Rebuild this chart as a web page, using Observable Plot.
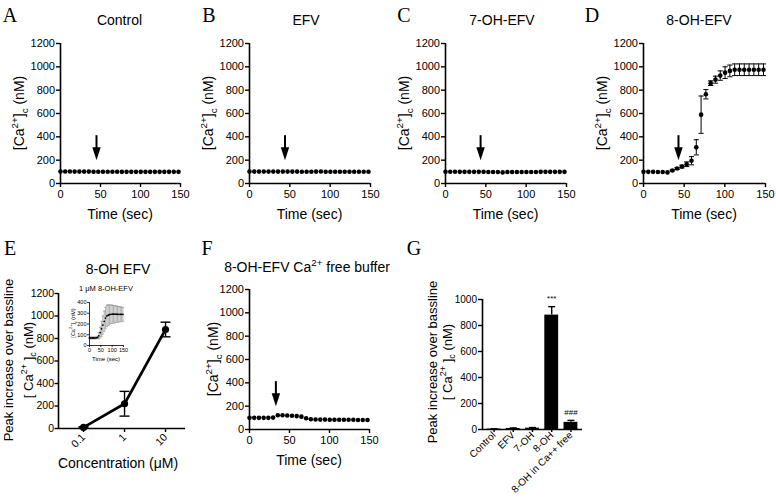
<!DOCTYPE html>
<html><head><meta charset="utf-8">
<script src="https://cdn.jsdelivr.net/npm/d3@7"></script>
<script src="https://cdn.jsdelivr.net/npm/@observablehq/plot@0.6"></script>
<style>
body{margin:0;background:#fff;}
#root{position:relative;width:776px;height:500px;overflow:hidden;font-family:"Liberation Sans",Arial,sans-serif;color:#000;background:#fff;}
.abs{position:absolute;white-space:nowrap;line-height:1;}
sup,sub{font-size:0.7em;line-height:0;}
</style></head><body><div id="root"></div>
<script>
// ---------- data ----------
const time = [0,5.9,11.8,17.7,23.6,29.5,35.4,41.3,47.2,53.1,59,64.9,70.8,76.7,82.6,88.5,94.4,100.3,106.2,112.1,118,123.9,129.8,135.7,141.6,147.5];
const controlCa = [103,103,103,102,102,102,102,101,101,101,101,101,101,100,100,100,100,100,100,100,100,100,100,100,100,100];
const efvCa     = [102,102,102,102,102,102,102,102,102,102,102,101,101,101,102,103,101,101,101,101,101,101,101,101,101,101];
const oh7Ca     = [101,101,101,100,100,100,100,100,100,99,99,98,95,98,98,98,99,99,99,99,100,100,100,100,100,100];
const oh8Ca     = [100,100,100,99,98,95,112,128,145,165,195,310,590,765,860,890,925,950,965,975,975,975,975,975,975,975];
const oh8Err    = [0,0,0,0,0,0,5,8,12,20,35,65,160,40,20,30,40,50,50,50,50,50,50,50,50,50];
const freeCa    = [100,100,100,100,100,102,122,122,120,118,115,110,96,88,86,85,85,84,84,84,83,83,83,82,82,82];
const insetCa   = [70,70,70,70,70,71,75,90,120,155,190,225,255,275,282,288,290,291,291,291,291,290,290,290,290,290];
const insetErr  = [8,8,8,8,8,8,10,30,50,70,85,95,100,100,95,90,85,85,80,80,75,75,70,70,65,65];
const addTime = {A:45, B:44, C:43.5, D:43, F:33};
const conc = [0.1, 1, 10];
const concPeak = [10, 220, 880];
const concErr = [6, 110, 65];
const groups = ["Control","EFV","7-OH","8-OH","8-OH in Ca++ free"];
const groupPeak = [3, 8, 10, 880, 55];
const groupErr = [2, 4, 5, 65, 15];
const groupSig = ["","","","***","###"];
const timeTicks = [0,50,100,150];
const caTicks = [0,200,400,600,800,1000,1200];
const peakTicks = [0,200,400,600,800,1000];
const insetTicksY = [0,100,200,300,400];

// ---------- helpers ----------
const root = document.getElementById("root");
const FONT = "Liberation Sans, Arial, sans-serif";
const plain = d => String(d);
function place(svg, left, top, tw=1.4){
  svg.style.position="absolute";svg.style.left=left+"px";svg.style.top=top+"px";
  svg.querySelectorAll('[aria-label$="tick"]').forEach(g=>g.setAttribute("stroke-width",tw));
  root.appendChild(svg);
}
function txt(html, x, y, {size=14, rot=false, family=FONT}={}){
  const d=document.createElement("div");d.className="abs";d.innerHTML=html;
  d.style.left=x+"px";d.style.top=y+"px";d.style.fontSize=size+"px";d.style.fontFamily=family;
  d.style.transform="translate(-50%,-50%)"+(rot?" rotate(-90deg)":"");
  root.appendChild(d);
}
const arrowHead = {draw(c){c.moveTo(0,0);c.lineTo(-4.2,-13);c.lineTo(4.2,-13);c.closePath();}};
const cap = w => ({draw(c){c.moveTo(-w,0);c.lineTo(w,0);}});
const caLabel = "[Ca<sup>2+</sup>]<sub>c</sub> (nM)";
const baseStyle = {fontFamily:FONT, fontSize:"11px", color:"black", background:"transparent", overflow:"visible"};

function timePanel({left, top, values, errors, arrowAt, plotW=121, plotH=140, mTop=43}){
  const data = time.map((t,i)=>({t, v:values[i], e: errors ? errors[i] : 0}));
  const eb = data.filter(d=>d.e>0);
  const marks = [
    Plot.ruleX(eb, {x:"t", y1:d=>d.v-d.e, y2:d=>d.v+d.e, stroke:"black", strokeWidth:1}),
    Plot.dot(eb, {x:"t", y:d=>d.v+d.e, symbol:cap(2.6), stroke:"black", strokeWidth:1}),
    Plot.dot(eb, {x:"t", y:d=>d.v-d.e, symbol:cap(2.6), stroke:"black", strokeWidth:1}),
    Plot.dot(data, {x:"t", y:"v", r:2.3, fill:"black"}),
    Plot.ruleX([{t:arrowAt, a:410, b:300}], {x:"t", y1:"a", y2:"b", stroke:"black", strokeWidth:2}),
    Plot.dot([{t:arrowAt, y:200}], {x:"t", y:"y", symbol:arrowHead, fill:"black", r:5}),
    Plot.ruleX([0], {stroke:"black", strokeWidth:1.6}),
    Plot.ruleY([0], {stroke:"black", strokeWidth:1.6})
  ];
  const svg = Plot.plot({
    width:60+plotW+16, height:mTop+plotH+40, marginLeft:60, marginRight:16, marginTop:mTop, marginBottom:40,
    style:baseStyle,
    x:{domain:[0,150], ticks:timeTicks, tickFormat:plain, tickSize:4, tickPadding:3, label:null},
    y:{domain:[0,1200], ticks:caTicks, tickFormat:plain, tickSize:4, tickPadding:1.5, label:null},
    marks
  });
  place(svg, left, top);
}

// ---------- top row ----------
timePanel({left:0,   top:0, values:controlCa, arrowAt:addTime.A, plotW:120});
timePanel({left:189, top:0, values:efvCa,     arrowAt:addTime.B, plotW:121});
timePanel({left:385, top:0, values:oh7Ca,     arrowAt:addTime.C, plotW:121});
timePanel({left:583, top:0, values:oh8Ca, errors:oh8Err, arrowAt:addTime.D, plotW:122});
timePanel({left:189, top:246, values:freeCa,  arrowAt:addTime.F, plotW:120});

const letters=[["A",10,15],["B",209,15],["C",404,15],["D",592,15],["E",10,248],["F",207,248],["G",414,248]];
letters.forEach(([l,x,y])=>txt(l,x,y,{size:20,family:"Liberation Serif, serif"}));
[["Control",119.5],["EFV",306],["7-OH-EFV",502],["8-OH-EFV",699]].forEach(([t,x])=>txt(t,x,20));
[120,309.5,505.5,704].forEach(x=>txt("Time (sec)",x,214));
[19,208,404,602].forEach(x=>txt(caLabel,x,113,{rot:true}));

// ---------- F labels ----------
txt("8-OH-EFV Ca<sup>2+</sup> free buffer",307,267);
txt("Time (sec)",309,460);
txt(caLabel,213,359,{rot:true});

// ---------- E: concentration response ----------
const concDomain=[0.0245,30.7];
const cdata = conc.map((c,i)=>({c, v:concPeak[i], e:concErr[i]}));
place(Plot.plot({
  width:58+127+15, height:43+135+50, marginLeft:58, marginRight:15, marginTop:43, marginBottom:50,
  style:{...baseStyle, fontSize:"10.5px"},
  x:{type:"log", domain:concDomain, ticks:conc, tickFormat:plain, tickRotate:-45, tickSize:4, tickPadding:3, label:null},
  y:{domain:[0,1200], ticks:caTicks, tickFormat:plain, tickSize:3.5, tickPadding:1, label:null},
  marks:[
    Plot.line(cdata, {x:"c", y:"v", stroke:"black", strokeWidth:2.6}),
    Plot.ruleX(cdata, {x:"c", y1:d=>d.v-d.e, y2:d=>d.v+d.e, stroke:"black", strokeWidth:1.4}),
    Plot.dot(cdata, {x:"c", y:d=>d.v+d.e, symbol:cap(5), stroke:"black", strokeWidth:1.4}),
    Plot.dot(cdata, {x:"c", y:d=>d.v-d.e, symbol:cap(5), stroke:"black", strokeWidth:1.4}),
    Plot.dot(cdata, {x:"c", y:"v", r:3.6, fill:"black"}),
    Plot.ruleX([concDomain[0]], {stroke:"black", strokeWidth:1.6}),
    Plot.ruleY([0], {stroke:"black", strokeWidth:1.6})
  ]
}), 0, 250);
txt("8-OH EFV",118,269);
txt("Concentration (μM)",118,463);
txt("Peak increase over bassline",8,360,{rot:true,size:13});
txt("[ Ca<sup>2+</sup> ]<sub>c</sub> (nM)",28,360,{rot:true,size:13});

// ---------- E inset ----------
const idata = time.map((t,i)=>({t, v:insetCa[i], e:insetErr[i]}));
place(Plot.plot({
  width:19+34+8, height:7+43+12, marginLeft:19, marginRight:8, marginTop:7, marginBottom:12,
  style:{...baseStyle, fontSize:"5.5px"},
  x:{domain:[0,150], ticks:timeTicks, tickFormat:plain, tickSize:2, tickPadding:1, label:null},
  y:{domain:[0,400], ticks:insetTicksY, tickFormat:plain, tickSize:2, tickPadding:1, label:null},
  marks:[
    Plot.ruleX(idata, {x:"t", y1:d=>d.v-d.e, y2:d=>d.v+d.e, stroke:"#9a9a9a", strokeWidth:0.8}),
    Plot.dot(idata, {x:"t", y:d=>d.v+d.e, symbol:cap(1.2), stroke:"#9a9a9a", strokeWidth:0.8}),
    Plot.dot(idata, {x:"t", y:d=>d.v-d.e, symbol:cap(1.2), stroke:"#9a9a9a", strokeWidth:0.8}),
    Plot.dot(idata, {x:"t", y:"v", r:0.9, fill:"black"}),
    Plot.ruleX([0], {stroke:"black", strokeWidth:0.8}),
    Plot.ruleY([0], {stroke:"black", strokeWidth:0.8})
  ]
}), 70, 295, 0.8);
txt("1 μM 8-OH-EFV",106,289,{size:7.5});
txt("Time (sec)",106,359,{size:6});
txt(caLabel,74,323,{rot:true,size:5.5});

// ---------- G: bar chart ----------
const gdata = groups.map((g,i)=>({i, v:groupPeak[i], e:groupErr[i], s:groupSig[i]}));
place(Plot.plot({
  width:60+100+20, height:49+130+70, marginLeft:60, marginRight:20, marginTop:49, marginBottom:70,
  style:{...baseStyle, fontSize:"10px"},
  x:{domain:[-0.6,4.6], ticks:[0,1,2,3,4], tickFormat:i=>groups[i], tickRotate:-45, tickSize:3, tickPadding:1, label:null},
  y:{domain:[0,1000], ticks:peakTicks, tickFormat:plain, tickSize:4, tickPadding:1.5, label:null},
  marks:[
    Plot.ruleX(gdata, {x:"i", y1:"v", y2:d=>d.v+d.e, stroke:"black", strokeWidth:1.4}),
    Plot.dot(gdata, {x:"i", y:d=>d.v+d.e, symbol:cap(3.5), stroke:"black", strokeWidth:1.4}),
    Plot.rectY(gdata, {x1:d=>d.i-0.36, x2:d=>d.i+0.36, y:"v", fill:"black"}),
    Plot.text(gdata, {x:"i", y:d=>d.v+d.e, text:"s", dy:-8, fontSize:8, fill:"black"}),
    Plot.ruleX([-0.6], {stroke:"black", strokeWidth:1.6}),
    Plot.ruleY([0], {stroke:"black", strokeWidth:1.6})
  ]
}), 422, 250);
txt("Peak increase over bassline",432,362,{rot:true,size:13});
txt("[ Ca<sup>2+</sup> ]<sub>c</sub> (nM)",447,362,{rot:true,size:13});
</script></body></html>
